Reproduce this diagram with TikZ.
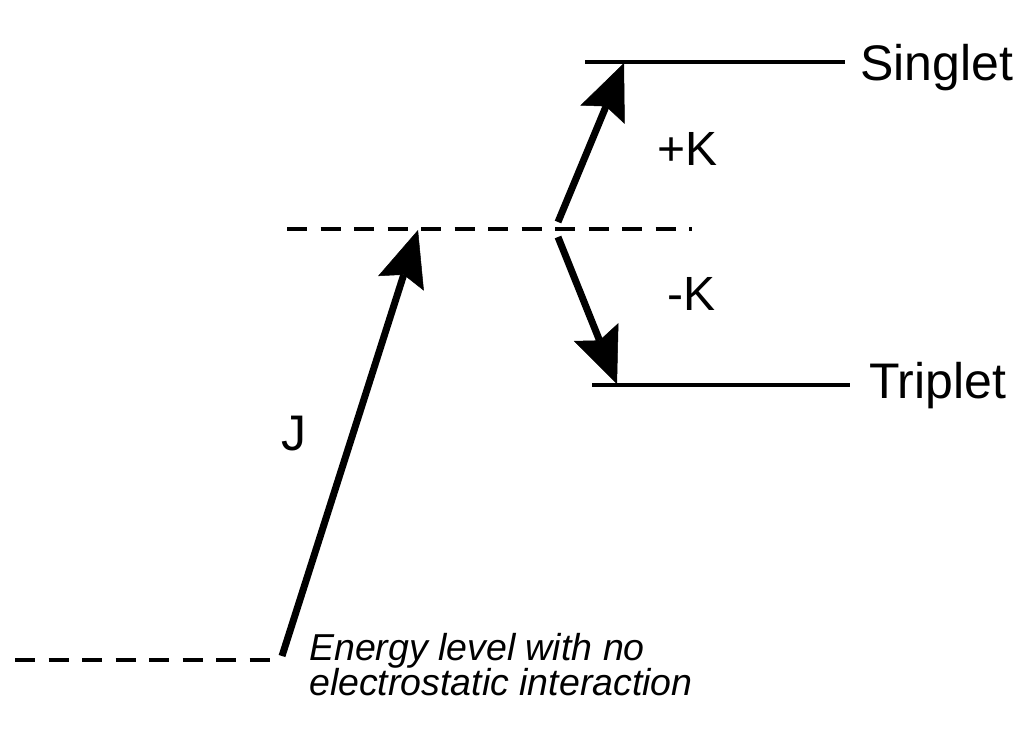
\documentclass[tikz,border=0pt]{standalone}
\usepackage{fontspec}
\setmainfont{Liberation Sans}
\usetikzlibrary{arrows.meta}
\begin{document}
\begin{tikzpicture}[x=1pt,y=-1pt,
  level/.style={line width=3.5pt},
  dlevel/.style={line width=3.5pt, dash pattern=on 20pt off 13.5pt},
  bigarrow/.style={line width=7pt, -{Stealth[length=56pt,width=48pt,inset=9pt,line width=0.5pt]}},
  biglbl/.style={inner sep=0pt, anchor=base west, font=\fontsize{50}{60}\selectfont},
  klbl/.style={inner sep=0pt, anchor=base west, font=\fontsize{48}{58}\selectfont},
  note/.style={inner sep=0pt, anchor=base west, font=\fontsize{37.5}{37}\selectfont\itshape}]
\useasboundingbox (0,0) rectangle (1024,731);
% levels
\coordinate (lowL) at (15,660);
\coordinate (lowR) at (270,660);
\coordinate (midL) at (287,229);
\coordinate (midR) at (692,229);
\coordinate (sL) at (585,62);
\coordinate (sR) at (845,62);
\coordinate (tL) at (592,385);
\coordinate (tR) at (850,385);
\draw[dlevel] (lowL) -- (lowR);
\draw[dlevel] (midL) -- (midR);
\draw[level] (sL) -- (sR);
\draw[level] (tL) -- (tR);
% arrows
\coordinate (jTail) at (282,656);
\coordinate (jTip) at (418,230);
\coordinate (kuTail) at (558,222);
\coordinate (kuTip) at (624,63);
\coordinate (kdTail) at (558,237);
\coordinate (kdTip) at (617,384);
\draw[bigarrow] (jTail) -- (jTip);
\draw[bigarrow] (kuTail) -- (kuTip);
\draw[bigarrow] (kdTail) -- (kdTip);
% labels
\node[biglbl] (singlet) at (860,80) {Singlet};
\node[biglbl] (triplet) at (869,398) {Triplet};
\node[klbl] (plusK) at (657,165) {+K};
\node[klbl] (minusK) at (667,310) {-K};
\node[biglbl] (J) at (281,450) {J};
\node[note] (note1) at (309,660) {Energy level with no};
\node[note] (note2) at (309,695) {electrostatic interaction};
\end{tikzpicture}
\end{document}
